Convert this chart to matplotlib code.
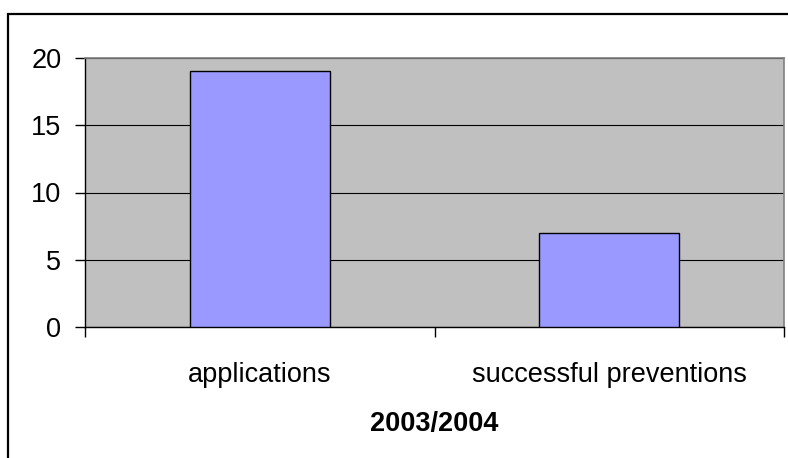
import matplotlib
matplotlib.use("Agg")
import matplotlib.pyplot as plt
import matplotlib.patches as mpatches

categories = ['applications', 'successful preventions']
values = [19, 7]
xlabel = '2003/2004'
yticks = [0, 5, 10, 15, 20]

plt.rcParams['font.family'] = ['Liberation Sans', 'DejaVu Sans']

W, H = 788, 458
fig = plt.figure(figsize=(W / 100, H / 100), dpi=100)
fig.patch.set_facecolor('white')

# outer chart frame (cut off at right and bottom)
frame = mpatches.Rectangle((8 / W, -0.1), 1.0, 1.1 - 14 / H, transform=fig.transFigure,
                           fill=False, edgecolor='black', linewidth=1.6, clip_on=False)
fig.patches.append(frame)

ax = fig.add_axes([85 / W, (H - 327) / H, 699 / W, 269 / H])
ax.set_facecolor('#C0C0C0')

x = list(range(len(categories)))
ax.bar(x, values, width=0.4, color='#9999FF', edgecolor='black', linewidth=1.0, zorder=3)

ax.set_xlim(-0.5, len(categories) - 0.5)
ax.set_ylim(0, 20)
ax.set_yticks(yticks)
ax.yaxis.grid(True, color='black', linewidth=0.8, zorder=1)
ax.set_axisbelow(True)

ax.set_xticks(x)
ax.set_xticklabels(categories, fontsize=19.5)
ax.set_xticks([-0.5, 0.5, 1.5], minor=True)
ax.tick_params(axis='x', which='major', length=0, pad=25)
ax.tick_params(axis='x', which='minor', length=7, width=1, direction='out', color='black')
ax.tick_params(axis='y', length=7, width=1, direction='out', pad=10, labelsize=19.5)

ax.set_xlabel(xlabel, fontsize=19.5, fontweight='bold', labelpad=17)

for side in ['top', 'right']:
    ax.spines[side].set_color('#808080')
    ax.spines[side].set_linewidth(1.2)
for side in ['left', 'bottom']:
    ax.spines[side].set_color('black')
    ax.spines[side].set_linewidth(1.0)

fig.savefig('out.png', dpi=100)
